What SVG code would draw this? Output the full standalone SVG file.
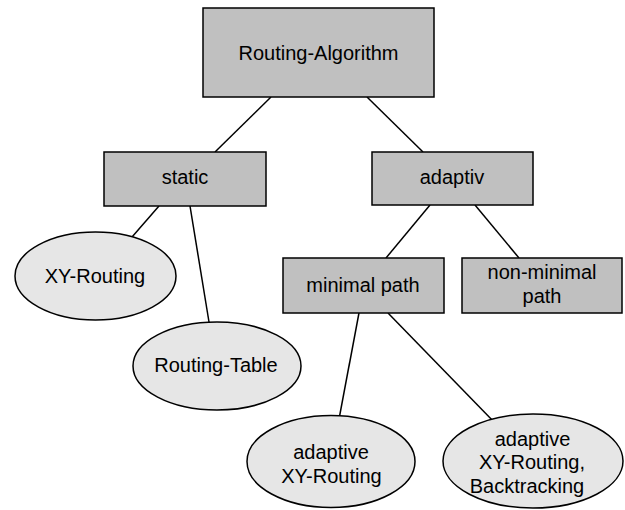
<svg xmlns="http://www.w3.org/2000/svg" width="625" height="510" viewBox="0 0 625 510">
<style>
.box{fill:#c0c0c0;stroke:#000;stroke-width:1.5}
.ell{fill:#e6e6e6;stroke:#000;stroke-width:1.5}
.ln{stroke:#000;stroke-width:1.5;fill:none}
text{font-family:"Liberation Sans",Arial,sans-serif;font-size:20px;fill:#000;text-anchor:middle}
</style>
<rect width="625" height="510" fill="#fff"/>
<g id="connectors">
<line class="ln" x1="271" y1="97" x2="215" y2="152"/>
<line class="ln" x1="367" y1="97" x2="423" y2="152"/>
<line class="ln" x1="159" y1="206" x2="132" y2="237"/>
<line class="ln" x1="190" y1="206" x2="209" y2="322"/>
<line class="ln" x1="430" y1="205" x2="386" y2="258"/>
<line class="ln" x1="475" y1="205" x2="519" y2="258"/>
<line class="ln" x1="359" y1="313" x2="339" y2="419"/>
<line class="ln" x1="388" y1="313" x2="495" y2="423"/>
</g>
<g id="root"><rect class="box" x="203" y="8" width="231" height="89"/><text x="318.5" y="60">Routing-Algorithm</text></g>
<g id="static"><rect class="box" x="104" y="152" width="162" height="54"/><text x="185" y="184">static</text></g>
<g id="adaptiv"><rect class="box" x="372" y="152" width="161" height="53"/><text x="452" y="184">adaptiv</text></g>
<g id="xy"><ellipse class="ell" cx="95.5" cy="276" rx="80.5" ry="44"/><text x="95" y="283">XY-Routing</text></g>
<g id="table"><ellipse class="ell" cx="217" cy="366" rx="84" ry="44"/><text x="216" y="372">Routing-Table</text></g>
<g id="minimal"><rect class="box" x="283" y="258" width="161" height="55"/><text x="363" y="292">minimal path</text></g>
<g id="nonminimal"><rect class="box" x="462" y="258" width="160" height="55"/><text x="542" y="279">non-minimal</text><text x="542" y="303">path</text></g>
<g id="adxy"><ellipse class="ell" cx="331" cy="461.5" rx="84" ry="46"/><text x="331" y="459">adaptive</text><text x="331.5" y="483">XY-Routing</text></g>
<g id="adxyb"><ellipse class="ell" cx="533" cy="461" rx="90" ry="47"/><text x="532.5" y="446">adaptive</text><text x="532" y="469">XY-Routing,</text><text x="527" y="493">Backtracking</text></g>
</svg>
